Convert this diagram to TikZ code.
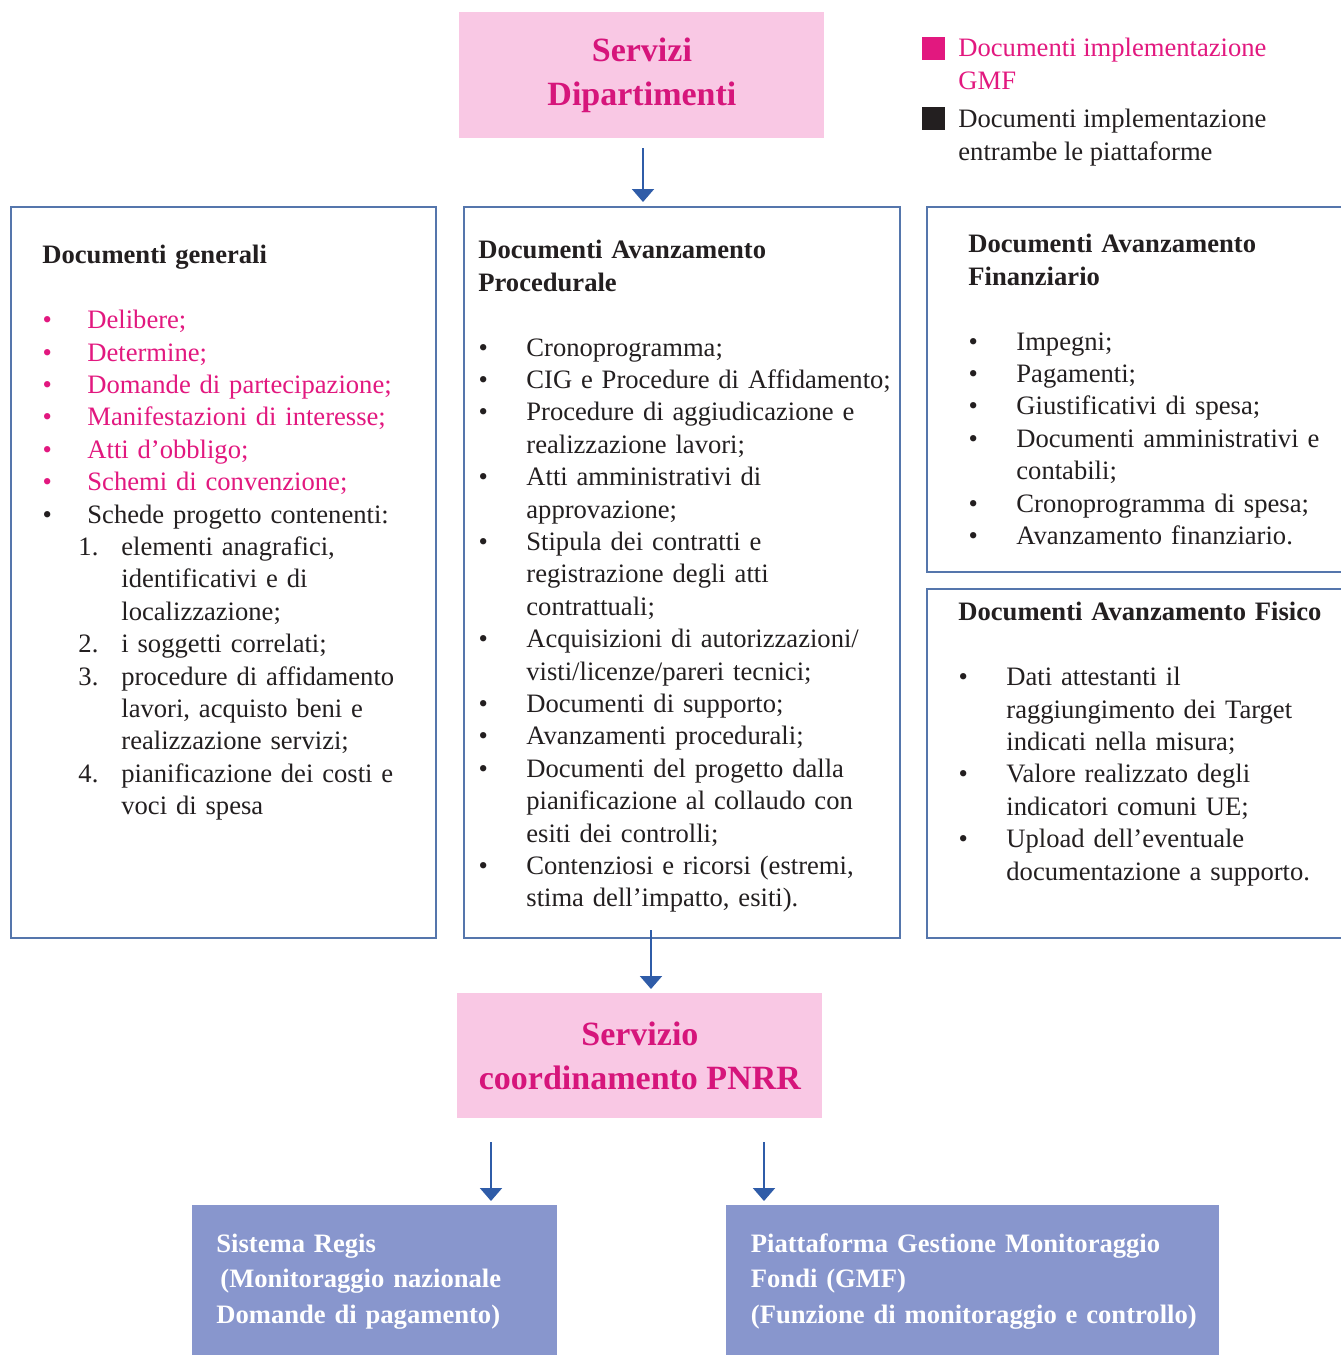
\documentclass[tikz,border=0pt]{standalone}
\usepackage{fontspec}
\setmainfont{Liberation Serif}
\usepackage{enumitem}
\usetikzlibrary{positioning, calc, arrows.meta}
\definecolor{gmfpink}{HTML}{E2187F}
\definecolor{titlepink}{HTML}{D6157B}
\definecolor{boxpink}{HTML}{F9C8E4}
\definecolor{boxline}{HTML}{5576AC}
\definecolor{arrowblue}{HTML}{2F5CA8}
\definecolor{platblue}{HTML}{8896CD}
\definecolor{bodytext}{HTML}{231F20}
\newcommand{\bodyfont}{\fontsize{13.3pt}{16.2pt}\selectfont}
\newcommand{\titlefont}{\fontsize{17pt}{22pt}\selectfont\bfseries}
\newcommand{\platfont}{\fontsize{13.3pt}{17.7pt}\selectfont\bfseries}
\newcommand{\pinkitem}[1]{\item[\textcolor{gmfpink}{\textbullet}]\textcolor{gmfpink}{#1}}
\setlist{before = \raggedright}
\setlist[itemize]{label=\textbullet, leftmargin=24pt, labelsep=19.2pt,
  topsep=16.2pt, itemsep=0pt, parsep=0pt, partopsep=0pt}
\setlist[enumerate]{label=\arabic*., leftmargin=17pt, labelsep=11.5pt,
  topsep=0pt, itemsep=0pt, parsep=0pt, partopsep=0pt}
\tikzset{%
  docbox/.style   = {draw = boxline, line width = 1pt, rectangle,
    anchor = north west, inner sep = 0pt, minimum height = 365.5pt},
  doctext/.style  = {anchor = north west, inner sep = 0pt, align = left,
    font = \bodyfont, text = bodytext},
  titlebox/.style = {fill = boxpink, rectangle, anchor = north west,
    minimum width = 182.5pt, inner sep = 0pt, font = \titlefont,
    text = titlepink, align = center},
  platbox/.style  = {fill = platblue, rectangle, anchor = north west,
    minimum height = 76pt, inner ysep = 0pt, font = \platfont,
    text = white, align = left},
  legsq/.style    = {rectangle, inner sep = 0pt, minimum size = 11.5pt},
  flow/.style     = {-{Triangle[width = 11pt, length = 6.5pt]},
    line width = 1pt, arrowblue, shorten > = 2pt}
}

\begin{document}
\begin{tikzpicture}[x = 0.5pt, y = -0.5pt]
\path[use as bounding box, fill = white] (0,0) rectangle (1340,1355);
% blocks
\draw
  (459,12) node [titlebox, minimum height = 63pt] (serv) {Servizi\\Dipartimenti}
  (10,206) node [docbox, minimum width = 212.5pt] (gen) {}
  (463,206) node [docbox, minimum width = 218pt] (proc) {}
  (926,206) node [docbox, minimum width = 212pt, minimum height = 182.5pt] (fin) {}
  (926,588) node [docbox, minimum width = 212pt, minimum height = 174.5pt] (fis) {}
  (457,993) node [titlebox, minimum height = 62.5pt] (pnrr) {Servizio\\coordinamento PNRR}
  (192,1205) node [platbox, text width = 158.5pt, inner xsep = 12pt] (regis)
    {Sistema Regis\\\hspace{2pt}(Monitoraggio nazionale\\Domande di pagamento)}
  (726,1205) node [platbox, text width = 222pt, inner xsep = 12.25pt] (gmf)
    {Piattaforma Gestione Monitoraggio\\Fondi (GMF)\\\mbox{(Funzione di monitoraggio e controllo)}};
% legend
\node[legsq, fill = gmfpink] (sqpink) at (933.5,48) {};
\node[legsq, fill = bodytext] (sqblack) at (933.5,118) {};
\node[doctext, text = gmfpink] (legpink) at (958,38) {Documenti implementazione\\GMF};
\node[doctext] (legblack) at (958,109) {Documenti implementazione\\entrambe le piattaforme};
% box contents
\node[doctext, text width = 195pt] (gentext) at ($(gen.north west)+(32,39)$) {%
  \textbf{Documenti generali}
  \begin{itemize}[leftmargin = 22.5pt, labelsep = 17.7pt]
    \pinkitem{Delibere;}
    \pinkitem{Determine;}
    \pinkitem{Domande di partecipazione;}
    \pinkitem{Manifestazioni di interesse;}
    \pinkitem{Atti d'obbligo;}
    \pinkitem{Schemi di convenzione;}
    \item Schede progetto contenenti:
    \begin{enumerate}
      \item elementi anagrafici,\\identificativi e di\\localizzazione;
      \item i soggetti correlati;
      \item procedure di affidamento\\lavori, acquisto beni e\\realizzazione servizi;
      \item pianificazione dei costi e\\voci di spesa
    \end{enumerate}
  \end{itemize}};
\node[doctext, text width = 212pt] (proctext) at ($(proc.north west)+(15,34)$) {%
  \textbf{Documenti Avanzamento\\Procedurale}
  \begin{itemize}
    \item Cronoprogramma;
    \item CIG e Procedure di Affidamento;
    \item Procedure di aggiudicazione e\\realizzazione lavori;
    \item Atti amministrativi di\\approvazione;
    \item Stipula dei contratti e\\registrazione degli atti\\contrattuali;
    \item Acquisizioni di autorizzazioni/\\visti/licenze/pareri tecnici;
    \item Documenti di supporto;
    \item Avanzamenti procedurali;
    \item Documenti del progetto dalla\\pianificazione al collaudo con\\esiti dei controlli;
    \item Contenziosi e ricorsi (estremi,\\stima dell'impatto, esiti).
  \end{itemize}};
\node[doctext, text width = 190pt] (fintext) at ($(fin.north west)+(42,28)$) {%
  \textbf{Documenti Avanzamento\\Finanziario}
  \begin{itemize}
    \item Impegni;
    \item Pagamenti;
    \item Giustificativi di spesa;
    \item Documenti amministrativi e\\contabili;
    \item Cronoprogramma di spesa;
    \item Avanzamento finanziario.
  \end{itemize}};
\node[doctext, text width = 190pt] (fistext) at ($(fis.north west)+(32,14)$) {%
  \textbf{Documenti Avanzamento Fisico}
  \begin{itemize}
    \item Dati attestanti il\\raggiungimento dei Target\\indicati nella misura;
    \item Valore realizzato degli\\indicatori comuni UE;
    \item Upload dell'eventuale\\documentazione a supporto.
  \end{itemize}};
% flow lines
\coordinate (a1) at (643,148);
\coordinate (a2) at (651,930);
\coordinate (a3) at (491,1142);
\coordinate (a4) at (764,1142);
\draw[flow] (a1) -- (a1 |- proc.north);
\draw[flow] (a2) -- (a2 |- pnrr.north);
\draw[flow] (a3) -- (a3 |- regis.north);
\draw[flow] (a4) -- (a4 |- gmf.north);
\end{tikzpicture}
\end{document}
